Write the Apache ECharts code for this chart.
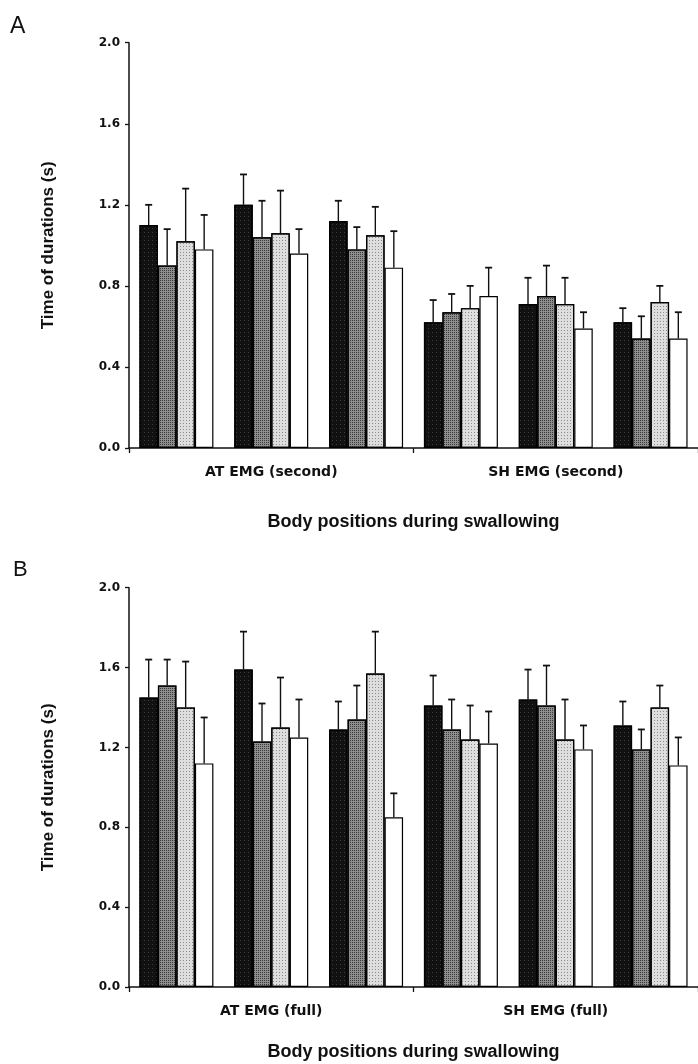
<!DOCTYPE html>
<html>
<head>
<meta charset="utf-8">
<script src="https://cdn.jsdelivr.net/npm/echarts@6/dist/echarts.min.js"></script>
<style>
  html, body { margin: 0; padding: 0; background: #fff; }
  #chart { width: 698px; height: 1064px; }
</style>
</head>
<body>
<div id="chart"></div>
<script>
// Six bar groups: three body positions under each EMG measure
const groups = ['AT-1', 'AT-2', 'AT-3', 'SH-1', 'SH-2', 'SH-3'];
const categoriesA = ['AT EMG (second)', 'SH EMG (second)'];
const categoriesB = ['AT EMG (full)', 'SH EMG (full)'];
const yTicks = [0, 0.4, 0.8, 1.2, 1.6, 2.0];
const seriesNames = ['Condition 1', 'Condition 2', 'Condition 3', 'Condition 4'];

// Panel A: mean durations (s) and standard deviations per condition
const meanA1 = [1.10, 1.20, 1.12, 0.62, 0.71, 0.62];
const meanA2 = [0.90, 1.04, 0.98, 0.67, 0.75, 0.54];
const meanA3 = [1.02, 1.06, 1.05, 0.69, 0.71, 0.72];
const meanA4 = [0.98, 0.96, 0.89, 0.75, 0.59, 0.54];
const sdA1 = [0.10, 0.15, 0.10, 0.11, 0.13, 0.07];
const sdA2 = [0.18, 0.18, 0.11, 0.09, 0.15, 0.11];
const sdA3 = [0.26, 0.21, 0.14, 0.11, 0.13, 0.08];
const sdA4 = [0.17, 0.12, 0.18, 0.14, 0.08, 0.13];

// Panel B: mean durations (s) and standard deviations per condition
const meanB1 = [1.45, 1.59, 1.29, 1.41, 1.44, 1.31];
const meanB2 = [1.51, 1.23, 1.34, 1.29, 1.41, 1.19];
const meanB3 = [1.40, 1.30, 1.57, 1.24, 1.24, 1.40];
const meanB4 = [1.12, 1.25, 0.85, 1.22, 1.19, 1.11];
const sdB1 = [0.19, 0.19, 0.14, 0.15, 0.15, 0.12];
const sdB2 = [0.13, 0.19, 0.17, 0.15, 0.20, 0.10];
const sdB3 = [0.23, 0.25, 0.21, 0.17, 0.20, 0.11];
const sdB4 = [0.23, 0.19, 0.12, 0.16, 0.12, 0.14];

// Fill + stipple for each condition (black, dark grey, light grey, white)
const fills = ['#111111', '#8e8e8e', '#dedede', '#ffffff'];
const stipples = [
  { symbol: 'rect', symbolSize: 1, color: '#3c3c3c', dashArrayX: [1, 3], dashArrayY: [1, 3], rotation: 0 },
  { symbol: 'rect', symbolSize: 1, color: '#3a3a3a', dashArrayX: [1, 1], dashArrayY: [1, 1], rotation: 0 },
  { symbol: 'rect', symbolSize: 1, color: '#8c8c8c', dashArrayX: [1, 2], dashArrayY: [1, 2], rotation: 0 },
  null
];
const CAT_GAP = 0.22;
const TICK_FONT = 'DejaVu Sans';
const TITLE_FONT = 'Liberation Sans';

const chart = echarts.init(document.getElementById('chart'), null, { renderer: 'canvas' });

const grids = [
  { left: 129, top: 42.7, width: 570, height: 405.3 },
  { left: 129, top: 587.7, width: 570, height: 399.3 }
];

const xAxes = [];
const yAxes = [];
const series = [];

function addPanel(gi, cats, means, sds, nameGap) {
  // hidden axis carrying the six bar groups
  xAxes.push({
    type: 'category', gridIndex: gi, data: groups, show: false
  });
  const barAxis = xAxes.length - 1;
  // visible axis with the two measure labels
  xAxes.push({
    type: 'category', gridIndex: gi, data: cats, position: 'bottom',
    axisLine: { lineStyle: { color: '#111', width: 1.5 } },
    axisTick: { show: true, length: 5, lineStyle: { color: '#111', width: 1.3 } },
    axisLabel: {
      fontFamily: TICK_FONT, fontWeight: 'bold', fontSize: 14, color: '#111', margin: 17
    },
    name: 'Body positions during swallowing',
    nameLocation: 'middle', nameGap: nameGap,
    nameTextStyle: { fontFamily: TITLE_FONT, fontWeight: 'bold', fontSize: 18, color: '#111' }
  });
  yAxes.push({
    type: 'value', gridIndex: gi, min: yTicks[0], max: yTicks[yTicks.length - 1],
    interval: yTicks[1] - yTicks[0],
    axisLine: { show: true, lineStyle: { color: '#111', width: 1.5 } },
    axisTick: { show: true, length: 4, lineStyle: { color: '#111', width: 1.3 } },
    splitLine: { show: false },
    axisLabel: {
      fontFamily: TICK_FONT, fontWeight: 'bold', fontSize: 12, color: '#111', margin: 9,
      formatter: v => v.toFixed(1)
    },
    name: 'Time of durations (s)', nameLocation: 'middle', nameGap: 72,
    nameTextStyle: { fontFamily: TITLE_FONT, fontWeight: 'bold', fontSize: 17, color: '#111' }
  });
  const yIdx = yAxes.length - 1;

  means.forEach((m, s) => {
    const style = { color: fills[s], borderColor: '#000', borderWidth: 1.2 };
    if (stipples[s]) style.decal = stipples[s];
    series.push({
      type: 'bar', name: seriesNames[s], xAxisIndex: barAxis, yAxisIndex: yIdx,
      data: m, barGap: '0%', barCategoryGap: (CAT_GAP * 100) + '%',
      itemStyle: style,
      emphasis: { disabled: true }, silent: true
    });
  });

  const errData = [];
  means.forEach((m, s) => {
    m.forEach((v, g) => errData.push([g, v, sds[s][g], s]));
  });
  series.push({
    type: 'custom', xAxisIndex: barAxis, yAxisIndex: yIdx, z: 5, silent: true,
    encode: { x: 0, y: 1 },
    data: errData,
    renderItem(params, api) {
      const cat = api.value(0), mean = api.value(1), sd = api.value(2), s = api.value(3);
      const base = api.coord([cat, mean]);
      const top = api.coord([cat, mean + sd]);
      const slot = api.size([1, 0])[0];
      const bw = slot * (1 - CAT_GAP) / 4;
      const x = base[0] + (s - 1.5) * bw;
      const half = 3.5;
      return {
        type: 'group',
        children: [
          { type: 'line', shape: { x1: x, y1: base[1], x2: x, y2: top[1] },
            style: { stroke: '#111', lineWidth: 1.4 } },
          { type: 'line', shape: { x1: x - half, y1: top[1], x2: x + half, y2: top[1] },
            style: { stroke: '#111', lineWidth: 1.8 } }
        ]
      };
    }
  });
}

addPanel(0, categoriesA, [meanA1, meanA2, meanA3, meanA4], [sdA1, sdA2, sdA3, sdA4], 65);
addPanel(1, categoriesB, [meanB1, meanB2, meanB3, meanB4], [sdB1, sdB2, sdB3, sdB4], 56);

chart.setOption({
  animation: false,
  backgroundColor: '#fff',
  title: [
    { text: 'A', left: 5, top: 10,
      textStyle: { fontFamily: TITLE_FONT, fontWeight: 'normal', fontSize: 23, color: '#111' } },
    { text: 'B', left: 8, top: 554,
      textStyle: { fontFamily: TITLE_FONT, fontWeight: 'normal', fontSize: 22, color: '#111' } }
  ],
  grid: grids,
  xAxis: xAxes,
  yAxis: yAxes,
  series: series
});
</script>
</body>
</html>
